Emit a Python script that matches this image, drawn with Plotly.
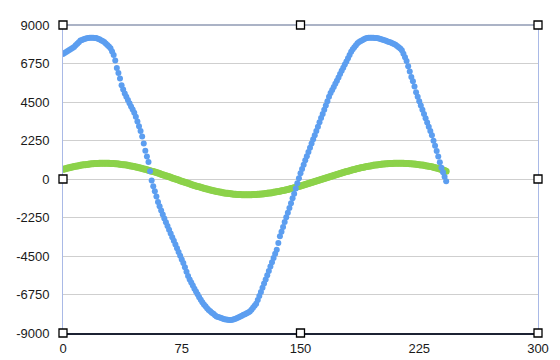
import plotly.graph_objects as go

# Sample index (x) for both series
x_index = list(range(0, 243))

blue_values = [
    7300, 7360, 7420, 7480, 7540, 7600, 7660, 7720, 7810, 7900,
    7990, 8090, 8130, 8160, 8200, 8230, 8240, 8250, 8250, 8250,
    8240, 8240, 8200, 8160, 8110, 8060, 8000, 7920, 7830, 7750,
    7640, 7450, 7240, 6920, 6480, 6200, 5880, 5480, 5230, 5000,
    4800, 4610, 4420, 4240, 4060, 3870, 3640, 3360, 3080, 2800,
    2490, 2080, 1650, 1310, 990, 460, -90, -420, -720, -1030,
    -1340, -1590, -1840, -2080, -2310, -2530, -2750, -2970, -3180, -3400,
    -3610, -3830, -4050, -4270, -4480, -4700, -4910, -5160, -5420, -5670,
    -5870, -6050, -6230, -6410, -6580, -6740, -6910, -7060, -7210, -7330,
    -7440, -7560, -7660, -7730, -7810, -7880, -7960, -8030, -8070, -8100,
    -8130, -8160, -8190, -8210, -8230, -8240, -8240, -8220, -8190, -8160,
    -8120, -8080, -8030, -7990, -7940, -7900, -7850, -7800, -7750, -7640,
    -7530, -7410, -7290, -7070, -6840, -6600, -6360, -6110, -5870, -5620,
    -5370, -5110, -4860, -4620, -4370, -4130, -3740, -3350, -3080, -2800,
    -2520, -2240, -1970, -1690, -1410, -1130, -860, -560, -250, 50,
    340, 590, 840, 1090, 1330, 1580, 1830, 2070, 2320, 2560,
    2810, 3060, 3310, 3560, 3800, 4050, 4300, 4550, 4800, 5030,
    5200, 5380, 5560, 5740, 5930, 6130, 6320, 6500, 6690, 6870,
    7060, 7250, 7440, 7580, 7700, 7810, 7930, 8010, 8060, 8110,
    8160, 8210, 8240, 8250, 8250, 8250, 8250, 8240, 8240, 8220,
    8200, 8170, 8140, 8110, 8080, 8040, 8000, 7970, 7930, 7890,
    7850, 7780, 7700, 7620, 7530, 7320, 7110, 6900, 6590, 6280,
    5960, 5710, 5400, 5070, 4800, 4550, 4300, 4050, 3800, 3550,
    3300, 3060, 2810, 2550, 2240, 1940, 1630, 1310, 980, 660,
    400, 130, -130,
]

green_values = [
    566, 591, 616, 639, 662, 684, 705, 725, 744, 763,
    780, 797, 812, 827, 840, 853, 865, 875, 884, 893,
    900, 906, 911, 915, 918, 919, 920, 919, 918, 915,
    911, 906, 900, 893, 884, 875, 865, 853, 840, 827,
    812, 797, 780, 763, 744, 725, 705, 684, 662, 639,
    616, 591, 566, 541, 514, 488, 460, 432, 403, 374,
    345, 315, 284, 254, 223, 191, 160, 128, 96, 64,
    32, 0, -32, -64, -96, -128, -160, -191, -223, -254,
    -284, -315, -345, -374, -403, -432, -460, -488, -514, -541,
    -566, -591, -616, -639, -662, -684, -705, -725, -744, -763,
    -780, -797, -812, -827, -840, -853, -865, -875, -884, -893,
    -900, -906, -911, -915, -918, -919, -920, -919, -918, -916,
    -912, -908, -902, -896, -889, -880, -871, -861, -850, -838,
    -825, -811, -797, -781, -765, -748, -730, -711, -692, -671,
    -651, -629, -607, -584, -560, -536, -511, -486, -460, -434,
    -407, -380, -352, -324, -296, -267, -238, -209, -179, -150,
    -120, -90, -60, -30, 0, 30, 60, 90, 120, 150,
    179, 209, 238, 267, 296, 324, 352, 380, 407, 434,
    460, 486, 511, 536, 560, 584, 607, 629, 651, 671,
    692, 711, 730, 748, 765, 781, 797, 811, 825, 838,
    850, 861, 871, 880, 889, 896, 902, 908, 912, 916,
    918, 919, 920, 919, 918, 916, 912, 908, 902, 896,
    889, 880, 871, 861, 850, 838, 825, 811, 797, 781,
    765, 748, 730, 710, 688, 664, 638, 612, 585, 555,
    525, 490, 455,
]

x_ticks = [0, 75, 150, 225, 300]
y_ticks = [-9000, -6750, -4500, -2250, 0, 2250, 4500, 6750, 9000]

BLUE = "rgb(92,158,240)"
GREEN = "rgb(140,210,74)"

fig = go.Figure()
fig.add_trace(go.Scatter(
    x=x_index, y=green_values, mode="markers",
    marker=dict(size=7, color=GREEN, line=dict(width=0)),
    showlegend=False, hoverinfo="skip",
))
fig.add_trace(go.Scatter(
    x=x_index, y=blue_values, mode="markers",
    marker=dict(size=6, color=BLUE, line=dict(width=0)),
    showlegend=False, hoverinfo="skip",
))

font = dict(family="Liberation Sans, Arial, sans-serif", size=13, color="#1a1a1a")

fig.update_layout(
    width=560, height=360,
    margin=dict(l=63, r=22, t=25, b=27),
    paper_bgcolor="white", plot_bgcolor="white",
    font=font,
    xaxis=dict(
        range=[0, 300], tickvals=x_ticks, ticktext=[str(v) for v in x_ticks],
        showgrid=False, zeroline=False, ticks="", automargin=False,
        showline=True, linecolor="#1c2233", linewidth=1.5,
        ticklabelstandoff=3,
    ),
    yaxis=dict(
        range=[-9000, 9000], tickvals=y_ticks, ticktext=[str(v) for v in y_ticks],
        showgrid=True, gridcolor="#cfcfcf", gridwidth=1, zeroline=False, ticks="",
        showline=True, linecolor="#a9b9e6", linewidth=1, mirror=True,
        ticklabelstandoff=10, automargin=False,
    ),
)

# top border of the plot area
fig.add_shape(type="line", xref="x domain", yref="y domain",
              x0=0, x1=1, y0=1, y1=1, line=dict(color="#8f9ab3", width=1.5))

# selection handles around the plot area
handle_pos = [(0, 1), (0.5, 1), (1, 1), (0, 0.5), (1, 0.5), (0, 0), (0.5, 0), (1, 0)]
for hx, hy in handle_pos:
    fig.add_shape(type="rect", xref="x domain", yref="y domain",
                  xsizemode="pixel", ysizemode="pixel",
                  xanchor=hx, yanchor=hy, x0=-4, x1=4, y0=-4, y1=4,
                  line=dict(color="black", width=1.3), fillcolor="white")

fig.write_html("out.html")
